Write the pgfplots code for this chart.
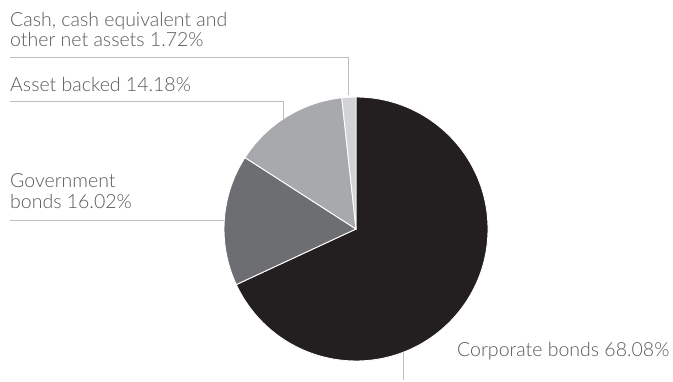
\documentclass[border=0pt]{standalone}
\usepackage{pgfplots}
\pgfplotsset{compat=1.18}
\usepackage{fontspec}
\setmainfont{Lato}[UprightFont={* Light}]
\definecolor{corp}{HTML}{231F20}
\definecolor{govt}{HTML}{6D6E71}
\definecolor{asset}{HTML}{A7A9AC}
\definecolor{cash}{HTML}{D1D3D4}
\definecolor{txt}{HTML}{58595B}
\definecolor{lead}{HTML}{BCBEC0}
\begin{document}
\begin{tikzpicture}
% data (percent)
\def\vCorp{68.08}\def\vGovt{16.02}\def\vAsset{14.18}\def\vCash{1.72}
\pgfmathsetmacro\aA{90}
\pgfmathsetmacro\aB{\aA-\vCorp*3.6}
\pgfmathsetmacro\aC{\aB-\vGovt*3.6}
\pgfmathsetmacro\aD{\aC-\vAsset*3.6}
\pgfmathsetmacro\aE{\aD-\vCash*3.6}
\path[use as bounding box] (0,0) rectangle (673bp,382bp);
\begin{axis}[at={(0,0)},anchor=south west,width=673bp,height=382bp,scale only axis,
  xmin=0,xmax=673,ymin=0,ymax=382,hide axis,clip=false]
\fill[corp,draw=white,line width=0.9bp] (axis cs:356,153) -- (axis cs:{356+132*cos(\aA)},{153+132*sin(\aA)}) arc[start angle=\aA,end angle=\aB,radius=132bp] -- cycle;
\fill[govt,draw=white,line width=0.9bp] (axis cs:356,153) -- (axis cs:{356+132*cos(\aB)},{153+132*sin(\aB)}) arc[start angle=\aB,end angle=\aC,radius=132bp] -- cycle;
\fill[asset,draw=white,line width=0.9bp] (axis cs:356,153) -- (axis cs:{356+132*cos(\aC)},{153+132*sin(\aC)}) arc[start angle=\aC,end angle=\aD,radius=132bp] -- cycle;
\fill[cash,draw=white,line width=0.9bp] (axis cs:356,153) -- (axis cs:{356+132*cos(\aD)},{153+132*sin(\aD)}) arc[start angle=\aD,end angle=\aE,radius=132bp] -- cycle;
% leader lines
\draw[lead,line width=1bp] (axis cs:10,324) -- (axis cs:348,324) -- (axis cs:348,287);
\draw[lead,line width=1bp] (axis cs:10,280) -- (axis cs:283,280) -- (axis cs:283,263);
\draw[lead,line width=1bp] (axis cs:10,161) -- (axis cs:224,161);
\draw[lead,line width=1bp] (axis cs:403,30) -- (axis cs:403,2);
% labels
\tikzset{lbl/.style={anchor=base west,inner sep=0pt,text=txt,font=\fontsize{19.5bp}{21bp}\selectfont}}
\node[lbl] at (axis cs:10,355) {Cash, cash equivalent and};
\node[lbl] at (axis cs:10,335) {other net assets \vCash\%};
\node[lbl] at (axis cs:10,290) {Asset backed \vAsset\%};
\node[lbl] at (axis cs:10,194) {Government};
\node[lbl] at (axis cs:10,173) {bonds \vGovt\%};
\node[lbl] at (axis cs:457,26) {Corporate bonds \vCorp\%};
\end{axis}
\end{tikzpicture}
\end{document}
